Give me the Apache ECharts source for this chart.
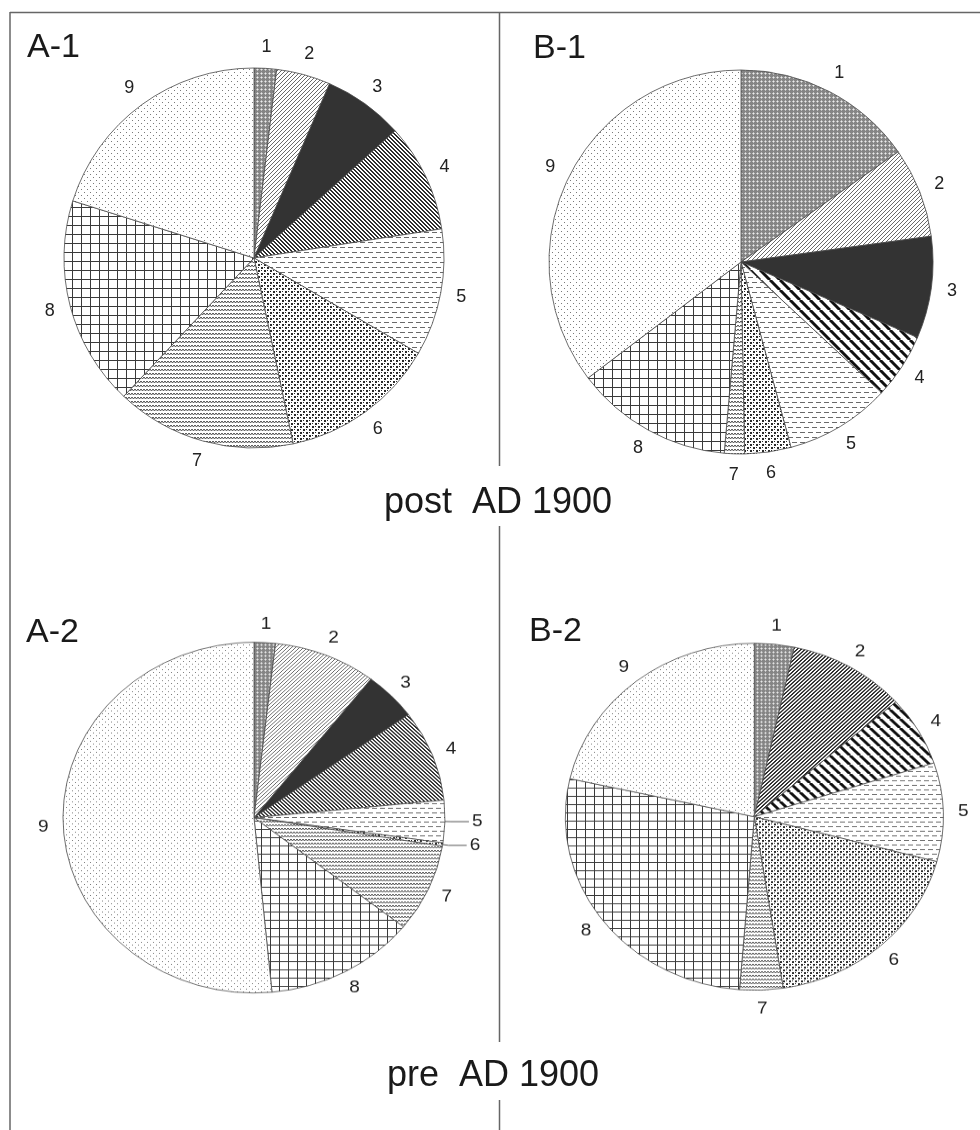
<!DOCTYPE html>
<html><head><meta charset="utf-8">
<script src="https://cdn.jsdelivr.net/npm/echarts@6/dist/echarts.min.js"></script>
<style>
html,body{margin:0;padding:0;background:#fff;}
#chartTop{position:absolute;left:0;top:0;width:980px;height:1130px;}
#chartBot{position:absolute;left:0;top:560px;width:980px;height:570px;transform:scaleY(0.918);transform-origin:0 257px;}
</style>
</head><body><div id="chartTop"></div><div id="chartBot"></div>
<script>
// ---- data (percent shares) ----
const CATS = ['1','2','3','4','5','6','7','8','9'];
const A1 = [1.9, 4.6, 6.8, 9.2, 10.8, 13.3, 15.3, 17.8, 20.1];
const B1 = [15.3, 7.6, 8.6, 5.5, 8.9, 3.9, 1.7, 13.3, 35.4];
const A2 = [1.8, 8.7, 4.5, 8.4, 3.9, 0.3, 8.1, 12.8, 51.5];
const B2 = [3.4, 10.1, 0, 6.5, 9.2, 18.4, 3.7, 27.3, 21.5];
const PANEL_TITLES = ['A-1', 'B-1', 'A-2', 'B-2'];
const PERIOD_TITLES = ['post  AD 1900', 'pre  AD 1900'];

// ---- pattern tiles ----
function mk(w, h, draw) {
  const c = document.createElement('canvas'); c.width = w; c.height = h;
  const g = c.getContext('2d'); g.fillStyle = '#fff'; g.fillRect(0, 0, w, h);
  draw(g); return c;
}
function px(g, col, pts) { g.fillStyle = col; pts.forEach(p => g.fillRect(p[0], p[1], p[2] || 1, p[3] || 1)); }
const P1 = mk(4, 4, g => { g.fillStyle = '#858585'; g.fillRect(0,0,4,4); px(g,'#ececec',[[1,1]]); px(g,'#c0c0c0',[[0,1],[2,1],[1,0],[1,2]]); });
const P2 = mk(4, 4, g => px(g, '#6a6a6a', [[3,0],[2,1],[1,2],[0,3]]));
const P2D = mk(4, 4, g => px(g, '#2a2a2a', [[3,0],[2,1],[1,2],[0,3],[2,0],[1,1],[0,2],[3,3]]));
const P3 = mk(4, 4, g => { g.fillStyle = '#333'; g.fillRect(0,0,4,4); });
const P4A = mk(4, 4, g => px(g, '#2e2e2e', [[0,0],[1,1],[2,2],[3,3],[1,0],[2,1],[3,2],[0,3]]));
const P4B = mk(10, 10, g => {
  g.strokeStyle = '#111'; g.lineWidth = 3;
  for (let k = -1; k <= 1; k++) { g.beginPath(); g.moveTo(k*10, 0); g.lineTo(k*10+10, 10); g.stroke(); }
});
const P5 = mk(8, 10, g => px(g, '#6a6a6a', [[0,2,5,1],[4,7,4,1],[0,7,1,1]]));
const P6 = mk(6, 6, g => px(g, '#2a2a2a', [[0,0,2,2],[3,3,2,2],[3,0,1,1],[0,3,1,1]]));
const P7 = mk(6, 4, g => {
  g.strokeStyle = '#4a4a4a'; g.lineWidth = 1; g.beginPath();
  g.moveTo(0, 1); g.lineTo(1.5, 3); g.lineTo(3, 1); g.lineTo(4.5, 3); g.lineTo(6, 1); g.stroke();
});
const P8 = mk(9, 9, g => px(g, '#3a3a3a', [[0,0,9,1],[0,0,1,9]]));
const P9 = mk(6, 6, g => px(g, '#7a7a7a', [[0,0],[3,3]]));

const PAT_A = [P1, P2, P3, P4A, P5, P6, P7, P8, P9];
const PAT_B1 = [P1, P2, P3, P4B, P5, P6, P7, P8, P9];
const PAT_B2 = [P1, P2D, P3, P4B, P5, P6, P7, P8, P9];

const FONT = '"Liberation Sans", Arial, sans-serif';

function pieSeries(vals, pats, center, r, outsideCats) {
  outsideCats = outsideCats || [];
  return {
    type: 'pie', center: center, radius: r, startAngle: 90, clockwise: true,
    animation: false, silent: true, avoidLabelOverlap: false,
    label: { show: false }, labelLine: { show: false },
    itemStyle: { borderColor: '#4a4a4a', borderWidth: 0.8 },
    emphasis: { disabled: true },
    data: CATS.map((c, i) => {
      const it = { name: c, value: vals[i], itemStyle: { color: { image: pats[i], repeat: 'repeat' } } };
      if (outsideCats.includes(c)) {
        it.label = { show: true, position: 'outside', formatter: '{b}', fontSize: 19, color: '#222', fontFamily: FONT, distanceToLabelLine: 3 };
        it.labelLine = { show: true, length: 6, length2: 18, lineStyle: { color: '#555', width: 1 } };
      }
      return it;
    })
  };
}
function labelRing(vals, center, r0, r1, fs, skipCats) {
  skipCats = skipCats || [];
  return {
    type: 'pie', center: center, radius: [r0, r1], startAngle: 90, clockwise: true,
    animation: false, silent: true, avoidLabelOverlap: false,
    itemStyle: { color: 'rgba(0,0,0,0)', borderWidth: 0 },
    emphasis: { disabled: true },
    label: { show: true, position: 'inside', formatter: '{b}', fontSize: fs, color: '#222', fontFamily: FONT },
    labelLine: { show: false },
    data: CATS.map((c, i) => ({ name: c, value: vals[i], label: { show: vals[i] > 0 && !skipCats.includes(c), fontSize: fs } }))
  };
}

const LINE = { stroke: '#666', lineWidth: 1.5 };
function ln(x1, y1, x2, y2) { return { type: 'line', silent: true, shape: { x1, y1, x2, y2 }, style: LINE }; }
function tx(x, y, text, size, align) {
  return { type: 'text', x, y, silent: true,
    style: { text, font: size + 'px ' + FONT, fill: '#1a1a1a', align: align, textAlign: align, verticalAlign: 'middle', textVerticalAlign: 'middle' } };
}

const chartTop = echarts.init(document.getElementById('chartTop'), null, { renderer: 'canvas' });
chartTop.setOption({
  backgroundColor: '#fff',
  animation: false,
  graphic: [
    ln(10, 12.5, 980, 12.5), ln(10, 12, 10, 1130),
    ln(499.5, 12, 499.5, 466), ln(499.5, 526, 499.5, 1042), ln(499.5, 1100, 499.5, 1130),
    tx(27, 48, PANEL_TITLES[0], 34, 'left'),
    tx(533, 49, PANEL_TITLES[1], 34, 'left'),
    tx(26, 633, PANEL_TITLES[2], 34, 'left'),
    tx(529, 632, PANEL_TITLES[3], 34, 'left'),
    tx(498, 503, PERIOD_TITLES[0], 36, 'center'),
    tx(493, 1076, PERIOD_TITLES[1], 36, 'center')
  ],
  series: [
    pieSeries(A1, PAT_A, [254, 258], 190),
    labelRing(A1, [254, 258], 194, 222, 18),
    pieSeries(B1, PAT_B1, [741, 262], 192),
    labelRing(B1, [741, 262], 196, 224, 18)
  ]
});

const chartBot = echarts.init(document.getElementById('chartBot'), null, { renderer: 'canvas' });
chartBot.setOption({
  backgroundColor: 'transparent',
  animation: false,
  series: [
    pieSeries(A2, PAT_A, [254, 257.7], 191, ['5', '6']),
    labelRing(A2, [254, 257.7], 194, 222, 19, ['5', '6']),
    pieSeries(B2, PAT_B2, [754.3, 256.7], 189),
    labelRing(B2, [754.3, 256.7], 192, 220, 19)
  ]
});
</script></body></html>
